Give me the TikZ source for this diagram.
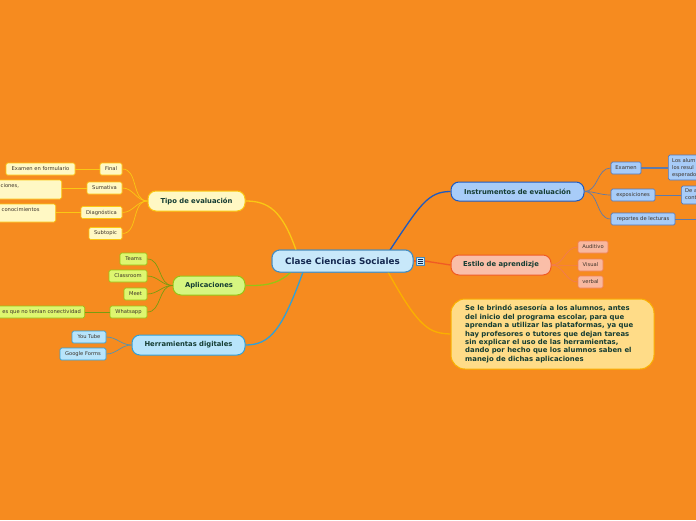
\documentclass[tikz,border=0pt]{standalone}
\usepackage{fontspec}
\setmainfont{DejaVu Sans}
\definecolor{bg}{RGB}{246,139,31}
\definecolor{cenfill}{RGB}{200,232,250}
\definecolor{cendraw}{RGB}{70,140,190}
\definecolor{centext}{RGB}{20,40,80}
\definecolor{maintext}{RGB}{20,60,50}
\definecolor{subtext}{RGB}{60,50,40}
\definecolor{yfill}{RGB}{255,248,196}
\definecolor{ydraw}{RGB}{250,200,20}
\definecolor{gfill}{RGB}{214,246,128}
\definecolor{gdraw}{RGB}{150,196,20}
\definecolor{gsfill}{RGB}{222,246,112}
\definecolor{bfill}{RGB}{184,228,250}
\definecolor{bdraw}{RGB}{48,160,216}
\definecolor{ifill}{RGB}{168,204,248}
\definecolor{idraw}{RGB}{30,90,192}
\definecolor{isdraw}{RGB}{80,120,190}
\definecolor{efill}{RGB}{250,190,168}
\definecolor{edraw}{RGB}{240,90,36}
\definecolor{esfill}{RGB}{248,184,160}
\definecolor{nfill}{RGB}{255,220,136}
\definecolor{ndraw}{RGB}{250,176,0}
\begin{document}
\begin{tikzpicture}[x=1pt,y=-1pt,
  mainbox/.style={draw, rounded corners=8pt, line width=1pt, inner sep=0pt, align=center,
    font=\bfseries\fontsize{6.8}{8}\selectfont, text=maintext},
  leaf/.style={draw, rounded corners=1.5pt, line width=0.7pt, inner sep=0pt, align=center,
    font=\fontsize{5.2}{6}\selectfont, text=subtext},
  ltext/.style={inner sep=0pt, font=\fontsize{5.2}{6.5}\selectfont, text=subtext, align=left},
  br/.style={line width=1.3pt},
  sbr/.style={line width=0.7pt}]
\path[use as bounding box] (0,0) rectangle (696,520);
\clip (0,0) rectangle (696,520);
\fill[bg] (0,0) rectangle (696,520);

\coordinate (ctl) at (296,250);
\coordinate (cbl) at (291,272);
\coordinate (cbb) at (303,272);
\coordinate (ctr) at (390,250);
\coordinate (cbr) at (388,272);

% ---------- central ----------
\node[draw=cendraw, fill=cenfill, rounded corners=8pt, line width=1pt, inner sep=0pt,
  minimum width=141, minimum height=22, font=\bfseries\fontsize{8.8}{10}\selectfont, text=centext]
  (cen) at (342.5,261) {};
\node[draw=cendraw, fill=cenfill, line width=0.5pt, minimum width=8, minimum height=8, inner sep=0pt]
  (icon) at (420.5,261) {};
\foreach \yy in {-2,0,2}
  \draw[centext, line width=0.7pt] ([xshift=-2.2pt,yshift=\yy pt]icon.center) -- ([xshift=2.2pt,yshift=\yy pt]icon.center);

% ---------- Tipo de evaluacion ----------
\node[mainbox, fill=yfill, draw=ydraw, minimum width=97, minimum height=20] (tipo) at (196.5,201) {Tipo de evaluación};
\node[leaf, fill=yfill, draw=ydraw, minimum width=22, minimum height=12] (final) at (111,169) {Final};
\node[leaf, fill=yfill, draw=ydraw, minimum width=35, minimum height=12] (suma) at (104.5,188) {Sumativa};
\node[leaf, fill=yfill, draw=ydraw, minimum width=41, minimum height=12] (diag) at (101.5,212.5) {Diagnóstica};
\node[leaf, fill=yfill, draw=ydraw, minimum width=33, minimum height=12] (subt) at (105.5,233.5) {Subtopic};
\node[leaf, fill=yfill, draw=ydraw, minimum width=69, minimum height=12] (exf) at (40.5,169) {Examen en formulario};
\node[leaf, fill=yfill, draw=ydraw, minimum width=82, minimum height=19, anchor=east] (sumc) at (62,189.5) {};
\node[ltext, anchor=west] (sumct) at (0.5,185.5) {ciones,};
\node[leaf, fill=yfill, draw=ydraw, minimum width=76, minimum height=18, anchor=east] (diagc) at (56,213) {};
\node[ltext, anchor=west] (diagct) at (1.5,209.5) {conocimientos};

\draw[br, ydraw] (ctl) .. controls (282,210) and (268,201) .. (tipo.east);
\foreach \n in {final,suma,diag,subt}
  \draw[sbr, ydraw] (tipo.west) to[out=180,in=0] (\n.east);
\draw[sbr, ydraw] (final.west) -- (exf.east);
\draw[sbr, ydraw] (suma.west) -- (suma.west -| sumc.east);
\draw[sbr, ydraw] (diag.west) -- (diag.west -| diagc.east);

% ---------- Aplicaciones ----------
\node[mainbox, fill=gfill, draw=gdraw, minimum width=72, minimum height=19] (apl) at (209,285.5) {Aplicaciones};
\node[leaf, fill=gsfill, draw=gdraw, minimum width=27, minimum height=12] (teams) at (133.5,259) {Teams};
\node[leaf, fill=gsfill, draw=gdraw, minimum width=38, minimum height=12] (class) at (128,276) {Classroom};
\node[leaf, fill=gsfill, draw=gdraw, minimum width=23, minimum height=12] (meet) at (135.5,294) {Meet};
\node[leaf, fill=gsfill, draw=gdraw, minimum width=37, minimum height=12] (whats) at (128.5,312) {Whatsapp};
\node[leaf, fill=gsfill, draw=gdraw, minimum width=95, minimum height=12, anchor=east] (whc) at (85,312) {};
\node[ltext, anchor=east] (whct) at (81,312) {es que no tenian conectividad};

\draw[br, gdraw] (cbl) .. controls (276,286) and (262,285.5) .. (apl.east);
\foreach \n in {teams,class,meet,whats}
  \draw[sbr, gdraw!80!black] (apl.west) to[out=180,in=0] (\n.east);
\draw[sbr, gdraw!80!black] (whats.west) -- (whc.east);

% ---------- Herramientas digitales ----------
\node[mainbox, fill=bfill, draw=bdraw, minimum width=113, minimum height=20] (herr) at (188.5,345) {Herramientas digitales};
\node[leaf, fill=bfill, draw=bdraw, minimum width=34, minimum height=12] (yt) at (89,337) {You Tube};
\node[leaf, fill=bfill, draw=bdraw, minimum width=46, minimum height=12] (gf) at (83,354) {Google Forms};
\draw[br, bdraw] (cbb) .. controls (282,330) and (270,345) .. (herr.east);
\foreach \n in {yt,gf}
  \draw[sbr, bdraw!60!gray] (herr.west) to[out=180,in=0] (\n.east);

% ---------- Instrumentos de evaluacion ----------
\node[mainbox, fill=ifill, draw=idraw, minimum width=133, minimum height=19] (inst) at (517.5,191.5) {Instrumentos de evaluación};
\node[leaf, fill=ifill, draw=isdraw, minimum width=30, minimum height=12] (exam) at (626,168) {Examen};
\node[leaf, fill=ifill, draw=isdraw, minimum width=44, minimum height=12] (expo) at (633,195) {exposiciones};
\node[leaf, fill=ifill, draw=isdraw, minimum width=64, minimum height=12] (repo) at (643,219) {reportes de lecturas};
\node[leaf, fill=ifill, draw=isdraw, minimum width=50, minimum height=25, anchor=west] (lalu) at (668,167.5) {};
\node[ltext, anchor=north west, font=\fontsize{5.2}{7}\selectfont] (lalut) at (672,158) {Los alum\\los resul\\esperado};
\node[leaf, fill=ifill, draw=isdraw, minimum width=40, minimum height=18, anchor=west] (dea) at (681,195) {};
\node[ltext, anchor=north west, font=\fontsize{5.2}{7.5}\selectfont] (deat) at (685,188.5) {De a\\cont};
\coordinate (repoend) at (700,219);

\draw[br, idraw] (ctr) .. controls (420,205) and (428,191.5) .. (inst.west);
\foreach \n in {exam,expo,repo}
  \draw[sbr, isdraw!70!gray] (inst.east) to[out=0,in=180] (\n.west);
\draw[line width=1.5pt, isdraw!70!gray] (exam.east) -- (exam.east -| lalu.west);
\draw[sbr, isdraw!70!gray] (expo.east) -- (expo.east -| dea.west);
\draw[sbr, isdraw!70!gray] (repo.east) -- (repoend);

% ---------- Estilo de aprendizje ----------
\node[mainbox, fill=efill, draw=edraw, minimum width=100, minimum height=20] (esti) at (501,265) {Estilo de aprendizje};
\node[leaf, fill=esfill, draw=edraw!60!esfill, minimum width=30, minimum height=12] (aud) at (593,247) {Auditivo};
\node[leaf, fill=esfill, draw=edraw!60!esfill, minimum width=25, minimum height=12] (vis) at (590.5,265) {Visual};
\node[leaf, fill=esfill, draw=edraw!60!esfill, minimum width=25, minimum height=12] (verb) at (590.5,282) {verbal};
\draw[br, edraw] (cen.east) -- (icon.west);
\draw[br, edraw] (icon.east) -- (esti.west);
\foreach \n in {aud,vis,verb}
  \draw[sbr, edraw!80!white] (esti.east) to[out=0,in=180] (\n.west);

% ---------- Note ----------
\node[draw=ndraw, fill=nfill, rounded corners=14pt, line width=1pt, minimum width=203, minimum height=70,
  inner sep=0pt] (note) at (552.5,334) {};
\node[anchor=north west, inner sep=0pt, align=left, text=maintext,
  font=\bfseries\fontsize{6.9}{8.45}\selectfont] (notet) at (465,305)
  {Se le brindó asesoría a los alumnos, antes\\
   del inicio del programa escolar, para que\\
   aprendan a utilizar las plataformas, ya que\\
   hay profesores o tutores que dejan tareas\\
   sin explicar el uso de las herramientas,\\
   dando por hecho que los alumnos saben el\\
   manejo de dichas aplicaciones};
\draw[br, ndraw] (cbr) .. controls (420,330) and (430,333) .. (note.west);

% central drawn on top of its connectors
\node[draw=cendraw, fill=cenfill, rounded corners=8pt, line width=1pt, inner sep=0pt,
  minimum width=141, minimum height=22, font=\bfseries\fontsize{8.8}{10}\selectfont, text=centext]
  (centop) at (cen) {Clase Ciencias Sociales};
\end{tikzpicture}
\end{document}
